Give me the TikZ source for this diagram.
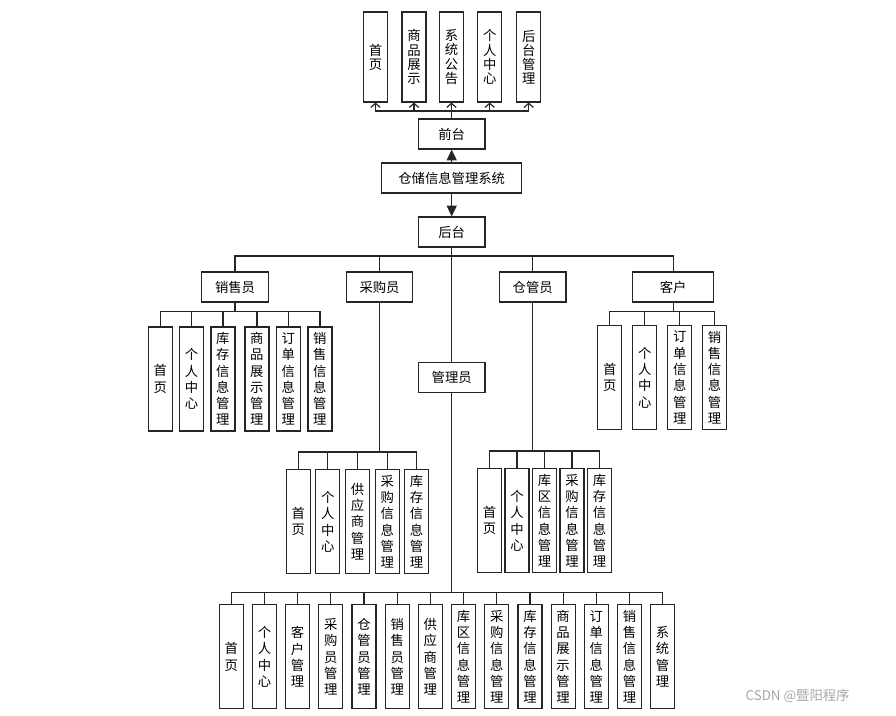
\documentclass[tikz,border=0pt]{standalone}
\usepackage{fontspec}
\setmainfont{Noto Sans CJK SC}
\usetikzlibrary{arrows.meta, positioning, calc}

\begin{document}
\begin{tikzpicture}[x=0.75pt, y=-0.75pt,
    every node/.style={font=\fontsize{10}{12.2}\selectfont},
    box/.style={draw=black!85, line width=0.9pt, fill=white, inner sep=0pt, align=center},
    vbox/.style={box, minimum width=18pt, minimum height=78pt},
    hbox/.style={box, minimum width=50pt, minimum height=22.5pt},
    link/.style={draw=black!85, line width=0.9pt}]
    \useasboundingbox (0,0) rectangle (896,716);

    % front end
    \node[hbox] (front) at (451.7,134) {前台};
    \node[hbox, minimum width=105pt] (sys) at (451.7,178) {仓储信息管理系统};
    \node[hbox] (back) at (451.7,232) {后台};
    \draw[link, -{Triangle[length=8pt, width=7.5pt]}] (sys.north) -- (front.south);
    \draw[link, -{Triangle[length=8pt, width=7.5pt]}] (sys.south) -- (back.north);

    \coordinate (tbus) at (451.7,111);
    \draw[link] (front.north) -- (tbus);
    \foreach \i/\x/\t in {1/375.5/首\\页, 2/414/商\\品\\展\\示, 3/451.5/系\\统\\公\\告,
                          4/489.7/个\\人\\中\\心, 5/528.7/后\\台\\管\\理} {
        \node[vbox, minimum height=67.5pt, font=\fontsize{10}{10.6}\selectfont] (t\i) at (\x,57) {\t};
        \draw[link, -{Straight Barb[length=3pt, width=7pt]}] (tbus) -| (t\i.south);
    }

    % roles
    \node[hbox] (sale) at (235,287) {销售员};
    \node[hbox] (buy) at (379.5,287) {采购员};
    \node[hbox] (keep) at (532.7,287) {仓管员};
    \node[hbox, minimum width=60.75pt] (cust) at (673.2,287) {客户};
    \node[hbox] (admin) at (451.7,377.5) {管理员};

    \coordinate (rbus) at (451.7,256);
    \draw[link] (back.south) -- (admin.north);
    \foreach \r in {sale, buy, keep, cust}
        \draw[link] (rbus) -| (\r.north);

    % salesman
    \foreach \i/\x/\t in {1/160.3/首\\页, 2/191.5/个\\人\\中\\心, 3/222.9/库\\存\\信\\息\\管\\理,
                          4/256.9/商\\品\\展\\示\\管\\理, 5/288.3/订\\单\\信\\息\\管\\理,
                          6/319.9/销\\售\\信\\息\\管\\理} {
        \node[vbox] (s\i) at (\x,379) {\t};
        \draw[link] (sale.south) -- ++(0,9.3) -| (s\i.north);
    }

    % customer
    \foreach \i/\x/\t in {1/609.7/首\\页, 2/644.7/个\\人\\中\\心, 3/679.7/订\\单\\信\\息\\管\\理,
                          4/714.5/销\\售\\信\\息\\管\\理} {
        \node[vbox] (c\i) at (\x,377.5) {\t};
        \draw[link] (cust.south) -- ++(0,9.3) -| (c\i.north);
    }

    % purchaser
    \foreach \i/\x/\t in {1/298.3/首\\页, 2/327.8/个\\人\\中\\心, 3/357.5/供\\应\\商\\管\\理,
                          4/387.2/采\\购\\信\\息\\管\\理, 5/416.5/库\\存\\信\\息\\管\\理} {
        \node[vbox] (b\i) at (\x,521.7) {\t};
        \draw[link] (buy.south) -- ++(0,149.3) -| (b\i.north);
    }

    % keeper
    \foreach \i/\x/\t in {1/489.5/首\\页, 2/517/个\\人\\中\\心, 3/544.5/库\\区\\信\\息\\管\\理,
                          4/572/采\\购\\信\\息\\管\\理, 5/599.5/库\\存\\信\\息\\管\\理} {
        \node[vbox] (k\i) at (\x,520.7) {\t};
        \draw[link] (keep.south) -- ++(0,148.3) -| (k\i.north);
    }

    % admin
    \foreach \t [count=\i, evaluate=\i as \x using 231.3+33.18*(\i-1)] in
        {首\\页, 个\\人\\中\\心, 客\\户\\管\\理, 采\\购\\员\\管\\理, 仓\\管\\员\\管\\理,
         销\\售\\员\\管\\理, 供\\应\\商\\管\\理, 库\\区\\信\\息\\管\\理, 采\\购\\信\\息\\管\\理,
         库\\存\\信\\息\\管\\理, 商\\品\\展\\示\\管\\理, 订\\单\\信\\息\\管\\理,
         销\\售\\信\\息\\管\\理, 系\\统\\管\\理} {
        \node[vbox] (a\i) at (\x,656.8) {\t};
        \draw[link] (admin.south) -- ++(0,199.7) -| (a\i.north);
    }

    \node[text=black!35, font=\fontsize{10}{12}\selectfont, anchor=west] (mark) at (741,696) {CSDN @暨阳程序};
\end{tikzpicture}
\end{document}
